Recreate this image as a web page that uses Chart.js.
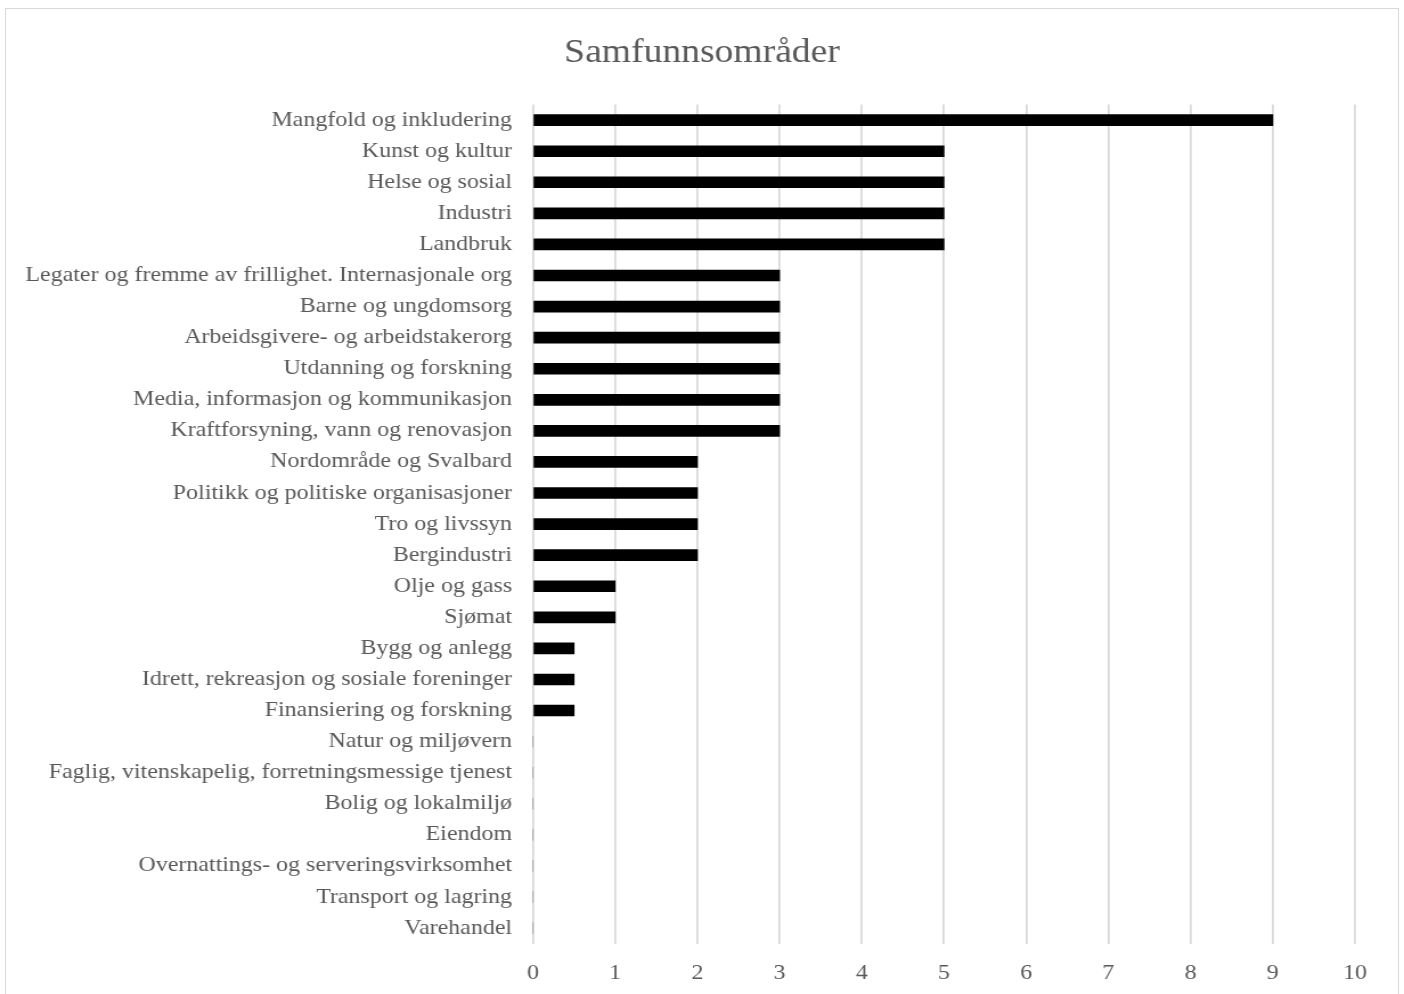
<!DOCTYPE html>
<html>
<head>
<meta charset="utf-8">
<script src="https://cdn.jsdelivr.net/npm/chart.js@4/dist/chart.umd.min.js"></script>
<style>
	html, body { margin: 0; padding: 0; background: #fff; overflow: hidden; }
	#frame { position: absolute; left: 5px; top: 8px; width: 1392px; height: 1000px; border: 1px solid #d9d9d9; }
	#generatedChart { position: absolute; left: 0; top: 0; width: 1404px; height: 994px; }
</style>
</head>
<body>
<div id="frame"></div>
<!-- the original image is a bit wider than tall text, so draw at 1232 wide and stretch to 1404 -->
<canvas id="generatedChart" width="1232" height="994" style="width:1404px;height:994px"></canvas>
<script>
//chart data
var categories = [
	'Mangfold og inkludering',
	'Kunst og kultur',
	'Helse og sosial',
	'Industri',
	'Landbruk',
	'Legater og fremme av frillighet. Internasjonale org',
	'Barne og ungdomsorg',
	'Arbeidsgivere- og arbeidstakerorg',
	'Utdanning og forskning',
	'Media, informasjon og kommunikasjon',
	'Kraftforsyning, vann og renovasjon',
	'Nordområde og Svalbard',
	'Politikk og politiske organisasjoner',
	'Tro og livssyn',
	'Bergindustri',
	'Olje og gass',
	'Sjømat',
	'Bygg og anlegg',
	'Idrett, rekreasjon og sosiale foreninger',
	'Finansiering og forskning',
	'Natur og miljøvern',
	'Faglig, vitenskapelig, forretningsmessige tjenest',
	'Bolig og lokalmiljø',
	'Eiendom',
	'Overnattings- og serveringsvirksomhet',
	'Transport og lagring',
	'Varehandel'
];
var values = [9, 5, 5, 5, 5, 3, 3, 3, 3, 3, 3, 2, 2, 2, 2, 1, 1, 0.5, 0.5, 0.5, 0, 0, 0, 0, 0, 0, 0];
var x_ticks = [0, 1, 2, 3, 4, 5, 6, 7, 8, 9, 10];

var text_color = '#595959';
var serif = '"Liberation Serif", "Times New Roman", serif';

var ctx = document.getElementById('generatedChart');

var myChart = new Chart(ctx, {
	type: 'bar',
	data: {
		labels: categories,
		datasets: [{
			label: 'Samfunnsområder',
			data: values,
			backgroundColor: '#000000',
			borderWidth: 0,
			barThickness: 11
		}]
	},
	options: {
		indexAxis: 'y',
		responsive: false,
		animation: false,
		layout: { padding: 0 },
		plugins: {
			legend: { display: false },
			tooltip: { enabled: false },
			title: {
				display: true,
				text: 'Samfunnsområder',
				color: text_color,
				font: { family: serif, size: 33, weight: 'normal' },
				padding: { top: 34, bottom: 31 }
			}
		},
		scales: {
			x: {
				min: 0,
				max: 10,
				afterBuildTicks: function(scale) {
					scale.ticks = x_ticks.map(function(v) { return { value: v }; });
				},
				afterFit: function(scale) { scale.height = 50.4; },
				grid: { color: '#d9d9d9', lineWidth: 1.75, drawTicks: false },
				border: { display: false },
				ticks: { color: text_color, font: { family: serif, size: 21 }, padding: 17 }
			},
			y: {
				afterFit: function(scale) { scale.width = 467.7; },
				grid: { display: false, drawTicks: false },
				border: { display: false },
				ticks: { color: text_color, font: { family: serif, size: 21 }, padding: 18.4, autoSkip: false }
			},
			//empty right axis, only keeps the right margin so the title stays centred on the whole frame
			yRight: {
				type: 'category',
				position: 'right',
				afterFit: function(scale) { scale.width = 43; },
				grid: { display: false, drawTicks: false },
				border: { display: false },
				ticks: { display: false }
			}
		}
	}
});
</script>
</body>
</html>
